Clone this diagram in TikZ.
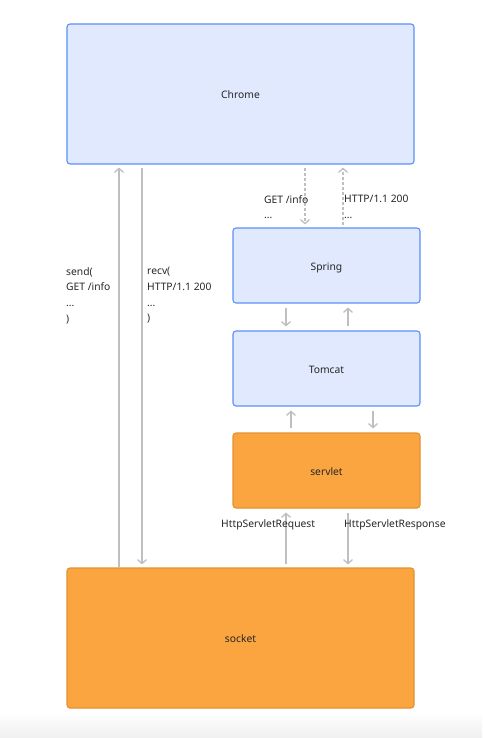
\documentclass[tikz,border=0pt]{standalone}
\usepackage{fontspec}
\setmainfont{Noto Sans}
\usetikzlibrary{arrows.meta}
\definecolor{bfill}{HTML}{E0E9FD}
\definecolor{bdraw}{HTML}{5B8FF9}
\definecolor{ofill}{HTML}{FAA53F}
\definecolor{odraw}{HTML}{E3922F}
\definecolor{lgray}{HTML}{BFBFBF}
\definecolor{txt}{HTML}{262626}
\tikzset{
  box/.style={draw=bdraw, fill=bfill, line width=1.1pt, rounded corners=3pt, inner sep=0pt, font=\fontsize{10.3}{12}\selectfont, text=txt, text depth=0pt, text height=9.4pt},
  obox/.style={box, draw=odraw, fill=ofill},
  conn/.style={draw=lgray, line width=1.4pt, -{Straight Barb[length=4pt,width=9pt,line width=1.3pt]}},
  dconn/.style={conn, dash pattern=on 3pt off 2pt},
  lbl/.style={anchor=north west, inner sep=0pt, align=left, text=txt, font=\fontsize{10.3}{15.8}\selectfont},
}
\begin{document}
\begin{tikzpicture}[x=1pt,y=-1pt]
\useasboundingbox (0,0) rectangle (482,738);
\shade[top color=white, bottom color=black!6] (0,712) rectangle (482,738);
\node[box, minimum width=347pt, minimum height=140pt] (chrome) at (240.5,94) {Chrome};
\node[box, minimum width=187pt, minimum height=75pt] (spring) at (326.5,265.5) {Spring};
\node[box, minimum width=187pt, minimum height=75pt] (tomcat) at (326.5,368.5) {Tomcat};
\node[obox, minimum width=187pt, minimum height=75pt] (servlet) at (326.5,470.5) {servlet};
\node[obox, minimum width=347pt, minimum height=140pt] (socket) at (240.5,638) {socket};
% socket <-> chrome
\draw[conn, shorten >=3pt] (socket.north -| 119,0) -- (chrome.south -| 119,0);
\draw[conn, shorten <=3pt, shorten >=3pt] (chrome.south -| 142,0) -- (socket.north -| 142,0);
% chrome <-> spring
\draw[dconn, shorten <=3pt, shorten >=3pt] (chrome.south -| 305,0) -- (spring.north -| 305,0);
\draw[dconn, shorten <=2pt, shorten >=3pt] (spring.north -| 343,0) -- (chrome.south -| 343,0);
% spring <-> tomcat
\draw[conn, shorten <=4pt, shorten >=4pt] (spring.south -| 286,0) -- (tomcat.north -| 286,0);
\draw[conn, shorten <=4pt, shorten >=4pt] (tomcat.north -| 348,0) -- (spring.south -| 348,0);
% tomcat <-> servlet
\draw[conn, shorten <=4pt, shorten >=4pt] (servlet.north -| 291,0) -- (tomcat.south -| 291,0);
\draw[conn, shorten <=4pt, shorten >=4pt] (tomcat.south -| 373,0) -- (servlet.north -| 373,0);
% servlet <-> socket
\draw[conn, shorten <=3pt, shorten >=4pt] (socket.north -| 286,0) -- (servlet.south -| 286,0);
\draw[conn, shorten <=4pt, shorten >=3pt] (servlet.south -| 348,0) -- (socket.north -| 348,0);
% labels
\node[lbl] (lsend) at (66,267) {send(\\GET /info\\...\\)};
\node[lbl] (lrecv) at (147,267) {recv(\\HTTP/1.1 200\\...\\)};
\node[lbl] (lget) at (264,195) {GET /info\\...};
\node[lbl] (lhttp) at (344,195) {HTTP/1.1 200\\...};
\node[lbl] (lreq) at (221,519) {HttpServletRequest};
\node[lbl] (lresp) at (344,519) {HttpServletResponse};
\end{tikzpicture}
\end{document}
